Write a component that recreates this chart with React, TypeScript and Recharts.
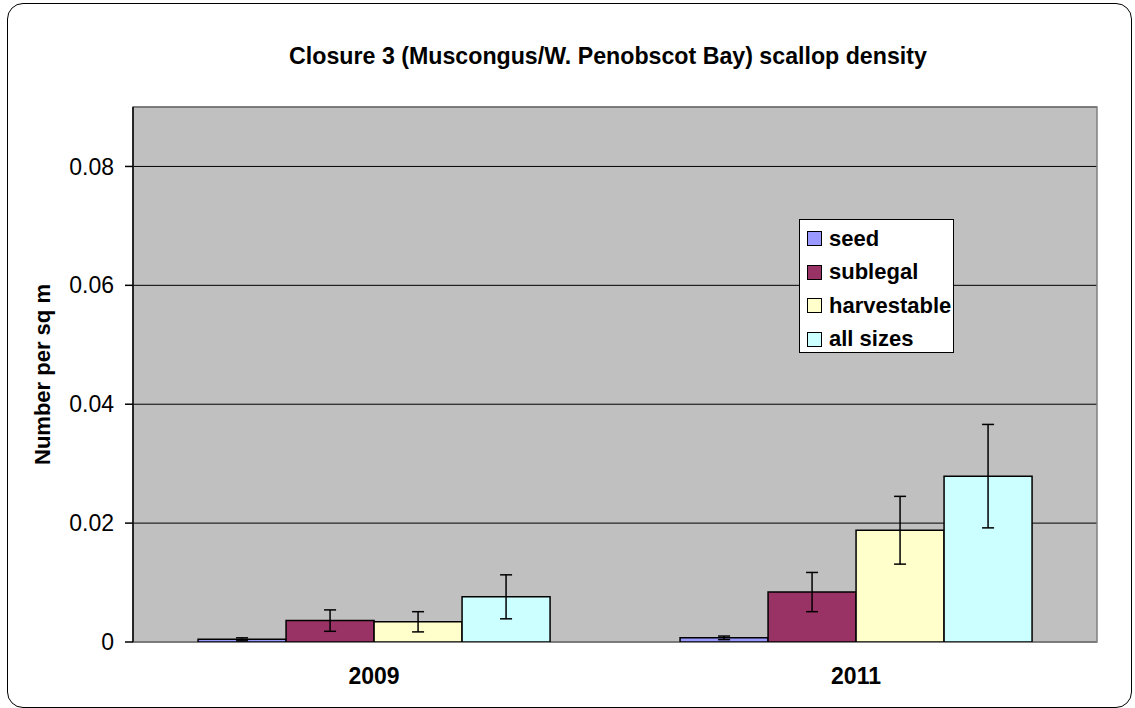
import { Bar, BarChart, CartesianGrid, ErrorBar, Legend, ReferenceArea, XAxis, YAxis } from "recharts";

const years = ["2009", "2011"];
const seed = [0.00045, 0.0007];
const seedErr = [0.00025, 0.0003];
const sublegal = [0.0036, 0.0084];
const sublegalErr = [0.0018, 0.0033];
const harvestable = [0.0034, 0.0188];
const harvestableErr = [0.0017, 0.0057];
const allSizes = [0.0076, 0.0279];
const allSizesErr = [0.0037, 0.0087];
const seriesNames = ["seed", "sublegal", "harvestable", "all sizes"];
const yTicks = [0, 0.02, 0.04, 0.06, 0.08];
const edgeTicks = [0, 1, 2];

const datos = years.map((year, i) => ({
  year,
  seed: seed[i],
  seedErr: seedErr[i],
  sublegal: sublegal[i],
  sublegalErr: sublegalErr[i],
  harvestable: harvestable[i],
  harvestableErr: harvestableErr[i],
  allSizes: allSizes[i],
  allSizesErr: allSizesErr[i],
}));

const fuente = "'Liberation Sans', Arial, sans-serif";

function Leyenda({ payload }: any) {
  // recharts ordena la leyenda alfabéticamente; la devolvemos al orden de las series
  const items = [...(payload || [])].sort(
    (a: any, b: any) => seriesNames.indexOf(a.value) - seriesNames.indexOf(b.value)
  );
  return (
    <div style={{ padding: "2px 0 0 7px" }}>
      {items.map((p: any) => (
        <div key={p.value} style={{ display: "flex", alignItems: "center", height: 33.5 }}>
          <span
            style={{
              width: 13,
              height: 13,
              background: p.color,
              border: "1px solid #000",
              marginRight: 7,
            }}
          />
          <span style={{ fontWeight: "bold", fontSize: 22, color: "#000" }}>{p.value}</span>
        </div>
      ))}
    </div>
  );
}

export default function App() {
  const err = (key: string) => (
    <ErrorBar dataKey={key} width={6} stroke="#000" strokeWidth={1.5} direction="y" />
  );

  return (
    <div style={{ position: "relative", width: 1135, height: 708, fontFamily: fuente, overflow: "hidden", background: "#fff" }}>
      <style>{`body{margin:0}`}</style>
      <div
        style={{
          position: "absolute",
          left: 7,
          top: 3,
          width: 1123,
          height: 703,
          border: "1.5px solid #000",
          borderRadius: 16,
        }}
      />
      <div
        style={{
          position: "absolute",
          top: 43,
          left: 0,
          width: 1216,
          textAlign: "center",
          fontWeight: "bold",
          fontSize: 23.2,
          color: "#000",
        }}
      >
        Closure 3 (Muscongus/W. Penobscot Bay) scallop density
      </div>
      <BarChart
        width={1135}
        height={708}
        data={datos}
        margin={{ top: 107, right: 38, left: 0, bottom: 0 }}
        barCategoryGap="13.5%"
        barGap={0}
        style={{ position: "absolute", left: 0, top: 0 }}
      >
        <CartesianGrid vertical={false} stroke="#000" fill="#C0C0C0" fillOpacity={1} />
        <ReferenceArea y1={0} y2={0.09} fill="none" stroke="#808080" strokeWidth={1.5} ifOverflow="visible" />
        <XAxis
          xAxisId="edges"
          type="number"
          domain={[0, 2]}
          ticks={edgeTicks}
          allowDataOverflow
          height={0}
          tickSize={8}
          tickFormatter={() => ""}
          axisLine={{ stroke: "#000", strokeWidth: 1.5 }}
          tickLine={{ stroke: "#000", strokeWidth: 1.5 }}
        />
        <XAxis
          dataKey="year"
          height={66}
          axisLine={false}
          tickLine={false}
          tickSize={0}
          tickMargin={26}
          tick={{ fill: "#000", fontSize: 23, fontWeight: "bold", fontFamily: fuente }}
        />
        <YAxis
          width={133}
          domain={[0, 0.09]}
          ticks={yTicks}
          allowDataOverflow
          tickSize={8}
          tickMargin={11}
          tickFormatter={(v: number) => (v === 0 ? "0" : v.toFixed(2))}
          axisLine={{ stroke: "#000", strokeWidth: 1.5 }}
          tickLine={{ stroke: "#000", strokeWidth: 1.5 }}
          tick={{ fill: "#000", fontSize: 23, fontFamily: fuente }}
          label={{
            value: "Number per sq m",
            angle: -90,
            position: "insideLeft",
            offset: 42,
            style: { textAnchor: "middle", fontWeight: "bold", fontSize: 22, fill: "#000", fontFamily: fuente },
          }}
        />
        <Legend
          layout="vertical"
          align="center"
          verticalAlign="middle"
          content={<Leyenda />}
          wrapperStyle={{
            left: 799,
            top: 219,
            width: 155,
            height: 134,
            background: "#fff",
            border: "1.5px solid #000",
            boxSizing: "border-box",
            fontFamily: fuente,
          }}
        />
        <Bar dataKey="seed" name="seed" fill="#9999FF" stroke="#000" strokeWidth={1.5} isAnimationActive={false}>
          {err("seedErr")}
        </Bar>
        <Bar dataKey="sublegal" name="sublegal" fill="#993366" stroke="#000" strokeWidth={1.5} isAnimationActive={false}>
          {err("sublegalErr")}
        </Bar>
        <Bar dataKey="harvestable" name="harvestable" fill="#FFFFCC" stroke="#000" strokeWidth={1.5} isAnimationActive={false}>
          {err("harvestableErr")}
        </Bar>
        <Bar dataKey="allSizes" name="all sizes" fill="#CCFFFF" stroke="#000" strokeWidth={1.5} isAnimationActive={false}>
          {err("allSizesErr")}
        </Bar>
      </BarChart>
    </div>
  );
}
